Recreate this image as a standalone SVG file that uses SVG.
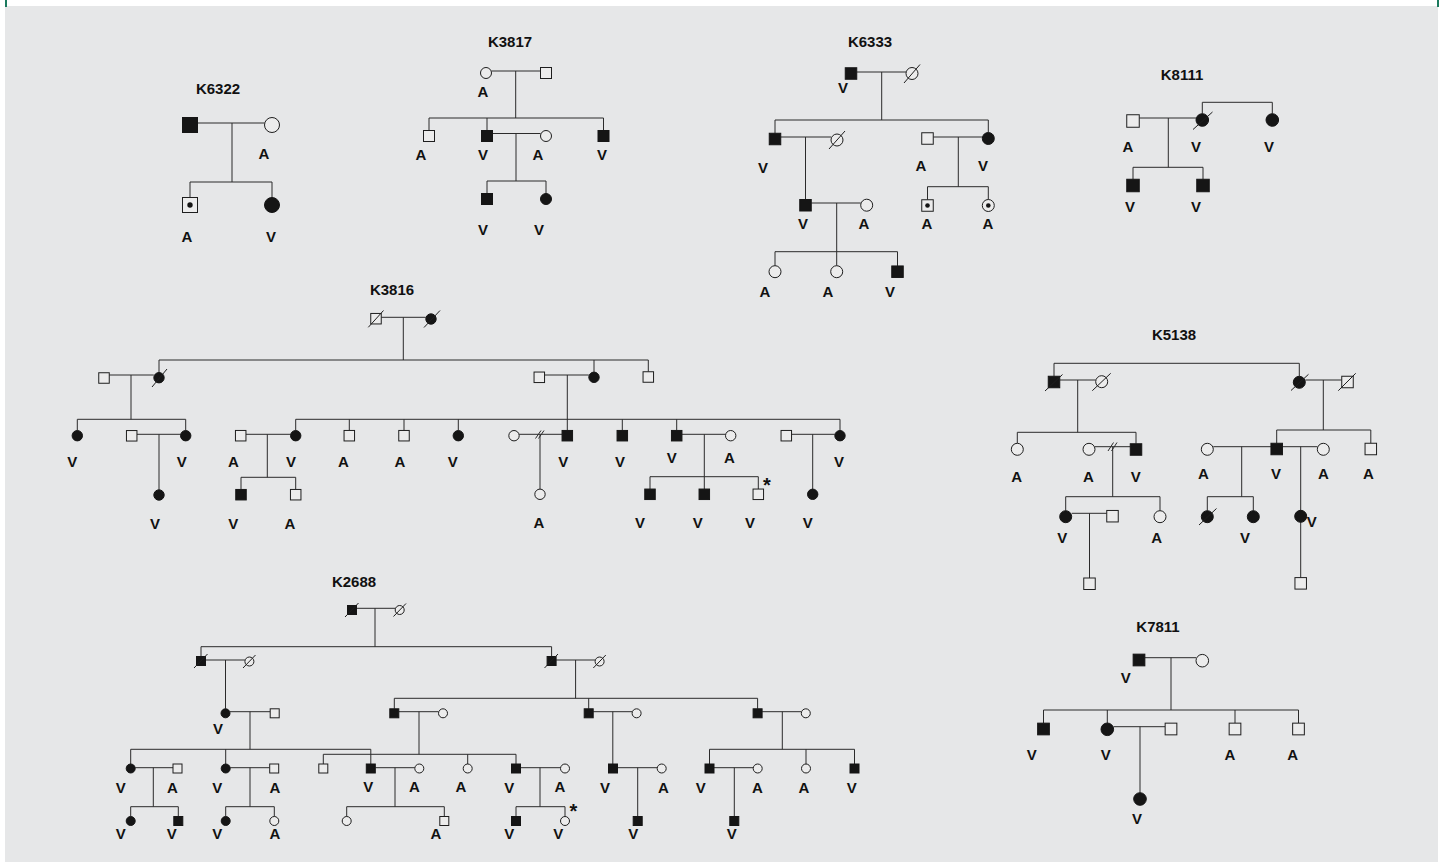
<svg xmlns="http://www.w3.org/2000/svg" width="1444" height="867" viewBox="0 0 1444 867">
<style>
.o{fill:#ececec;stroke:#1e1e1e;stroke-width:1}
.f{fill:#151515;stroke:#151515;stroke-width:1}
.d{fill:#151515}
.ln{stroke:#2b2b2b;stroke-width:1;fill:none}
.sl{stroke:#1e1e1e;stroke-width:1;fill:none}
text{font-family:"Liberation Sans",Arial,sans-serif;font-weight:bold;font-size:15px;fill:#111;text-anchor:middle}
.ti{font-size:15px}
.st{font-size:20px}
</style>
<rect width="1444" height="867" fill="#fff"/>
<rect x="5" y="6" width="1433" height="856" fill="#e6e7e8"/>
<rect x="5" y="0" width="2" height="7" fill="#1b7a5e"/>
<rect x="1437" y="0" width="2" height="7" fill="#1b7a5e"/>

<g id="titles">
<text class="ti" x="218" y="94">K6322</text>
<text class="ti" x="510" y="47">K3817</text>
<text class="ti" x="870" y="47">K6333</text>
<text class="ti" x="1182" y="80">K8111</text>
<text class="ti" x="392" y="295">K3816</text>
<text class="ti" x="1174" y="340">K5138</text>
<text class="ti" x="354" y="587">K2688</text>
<text class="ti" x="1158" y="632">K7811</text>
</g>

<g id="connectors" class="ln">
<path d="M197.5 123 H264.5 M232 123 V182 M190 182 H272 M190 182 V197.5 M272 182 V197.5"/>
<path d="M491.5 71 H540.5 M515.7 71 V118 M429 118 H603.5 M429 118 V130.5 M487 118 V130.5 M603.5 118 V130.5 M492.5 133.5 H540.5 M516 133.5 V181 M487 181 H546 M487 181 V193.5 M546 181 V193.5"/>
<path d="M856.75 72 H906 M881.7 72 V120 M775 120 H988.3 M775 120 V133.25 M988.3 120 V132.5 M780.75 137 H831 M805.5 137 V199.5 M933.25 137 H982.3 M958.3 137 V186.7 M927.5 186.7 H988.3 M927.5 186.7 V199.75 M988.3 186.7 V199.5 M811.25 203 H860.7 M836.7 203 V251.7 M775 251.7 H897.5 M775 251.7 V265.7 M836.7 251.7 V265.7 M897.5 251.7 V265.95"/>
<path d="M1139.25 118 H1196 M1168.3 118 V167.3 M1202.3 113.7 V102.3 H1272.3 V113.7 M1133 167.3 H1203 M1133 167.3 V179.25 M1203 167.3 V179.25"/>
<path d="M381.25 317.3 H425.8 M403.3 317.3 V360 M159 360 H648.3 M159 360 V372.5 M594 360 V372.1 M648.3 360 V371.75 M109.25 375 H153.8 M131 375 V419.3 M77.3 419.3 H185.7 M77.3 419.3 V430.5 M185.7 419.3 V430.5 M136.95 434.3 H180.5 M159 434.3 V489.8 M544.55 375 H588.8 M567.3 375 V430.45 M295.7 419.3 H840 M295.7 419.3 V430.5 M349.3 419.3 V430.45 M404 419.3 V430.45 M458.3 419.3 V430.5 M622.3 419.3 V430.45 M676.7 419.3 V430.45 M840 419.3 V430.5 M245.95 434.3 H290.5 M267.3 434.3 V477.3 M241 477.3 H295.7 M241 477.3 V489.45 M295.7 477.3 V489.45 M519.2 434.3 H562.05 M540 434.3 V489.1 M681.95 434.3 H725.5 M704.3 434.3 V476.7 M650 476.7 H758.3 M650 476.7 V489.05 M704.3 476.7 V489.05 M758.3 476.7 V489.05 M791.55 434.3 H834.8 M812.7 434.3 V489.1 M535.5 438.5 L541 430.5 M538.5 438.5 L544 430.5"/>
<path d="M1054 376.25 V363.3 H1299.3 V376.3 M1059.75 380 H1095.7 M1077.7 380 V432.3 M1017.3 432.3 H1136 M1017.3 432.3 V443.3 M1136 432.3 V443.75 M1095 446.7 H1130.25 M1112.7 446.7 V496.7 M1065.7 496.7 H1160 M1065.7 496.7 V510.7 M1160 496.7 V510.7 M1071.7 513.3 H1106.75 M1089.5 513.3 V578 M1305.3 380 H1341.75 M1323.3 380 V430 M1276.7 430 H1370.8 M1276.7 430 V443.25 M1370.8 430 V443.25 M1213.3 446.7 H1270.95 M1282.45 446.7 H1317.3 M1241.7 446.7 V496.7 M1207.3 496.7 H1253.3 M1207.3 496.7 V510.7 M1253.3 496.7 V510.7 M1300.7 446.7 V577.6 M1108 451 L1113.5 442.5 M1111.5 451 L1117 442.5"/>
<path d="M1144.85 657.7 H1196 M1171 657.7 V710 M1043.5 710 H1298.5 M1043.5 710 V723.15 M1107.3 710 V723 M1235 710 V723.15 M1298.5 710 V723.15 M1113.6 726.7 H1165.15 M1140 726.7 V792.7"/>
<path d="M356.5 608.3 H395.2 M375 608.3 V646.7 M201 646.7 H551.6 M201 646.7 V656.5 M551.6 646.7 V656.5 M205.5 660 H244.9 M225.5 660 V708.8 M556.1 660 H595.1 M575.6 660 V698.3 M230 711.7 H270.2 M250 711.7 V749.3 M394.3 698.3 H757.6 M394.3 698.3 V708.8 M588.7 698.3 V708.8 M757.6 698.3 V708.8 M398.8 711.7 H438.5 M419 711.7 V754.3 M593.2 711.7 H632.1 M612.8 711.7 V764 M762.1 711.7 H801.3 M782.3 711.7 V749.3 M130.7 749.3 H370.8 M130.7 749.3 V764 M225.7 749.3 V764 M370.8 749.3 V764 M323.3 754.3 H516 M323.3 754.3 V764 M467.7 754.3 V764 M516 754.3 V764 M709.5 749.3 H854.5 M709.5 749.3 V764 M806 749.3 V764 M854.5 749.3 V764 M135.2 767.7 H173 M153.3 767.7 V806.7 M130.7 806.7 H178.3 M130.7 806.7 V816.5 M178.3 806.7 V816.5 M230.2 767.7 H269.7 M250 767.7 V806.7 M225.7 806.7 H274.3 M225.7 806.7 V816.5 M274.3 806.7 V816.5 M375.3 767.7 H414.8 M395 767.7 V806.7 M346.7 806.7 H444.3 M346.7 806.7 V816.5 M444.3 806.7 V816.5 M520.5 767.7 H560.5 M540 767.7 V806.7 M516 806.7 H565 M516 806.7 V816.5 M565 806.7 V816.5 M617.5 767.7 H657.2 M637.7 767.7 V816.5 M714 767.7 H753.2 M734.3 767.7 V816.5"/>
</g>

<!-- K6322 -->
<g id="k6322-f"><rect class="f" x="182.5" y="117.5" width="15" height="15"/></g>
<g id="k6322-m"><circle class="o" cx="272" cy="125" r="7.5"/><text x="264" y="159">A</text></g>
<g id="k6322-c1"><rect class="o" x="182.5" y="197.5" width="15" height="15"/><circle class="d" cx="190" cy="205" r="2.7"/><text x="187" y="242">A</text></g>
<g id="k6322-c2"><circle class="f" cx="272" cy="205" r="7.5"/><text x="271" y="242">V</text></g>

<!-- K3817 -->
<g id="k3817-m"><circle class="o" cx="486" cy="73" r="5.5"/><text x="483" y="97">A</text></g>
<g id="k3817-f"><rect class="o" x="540.5" y="67.5" width="11" height="11"/></g>
<g id="k3817-c1"><rect class="o" x="423.5" y="130.5" width="11" height="11"/><text x="421" y="160">A</text></g>
<g id="k3817-c2"><rect class="f" x="481.5" y="130.5" width="11" height="11"/><text x="483" y="160">V</text></g>
<g id="k3817-s2"><circle class="o" cx="546" cy="136" r="5.5"/><text x="538" y="160">A</text></g>
<g id="k3817-c3"><rect class="f" x="598" y="130.5" width="11" height="11"/><text x="602" y="160">V</text></g>
<g id="k3817-g1"><rect class="f" x="481.5" y="193.5" width="11" height="11"/><text x="483" y="235">V</text></g>
<g id="k3817-g2"><circle class="f" cx="546" cy="199" r="5.5"/><text x="539" y="235">V</text></g>

<!-- K6333 -->
<g id="k6333-f"><rect class="f" x="845.25" y="67.75" width="11.5" height="11.5"/><text x="843" y="93">V</text></g>
<g id="k6333-m"><circle class="o" cx="912" cy="73.5" r="6"/><path class="sl" d="M904 83 L920 64.5"/></g>
<g id="k6333-c1"><rect class="f" x="769.25" y="133.25" width="11.5" height="11.5"/><text x="763" y="173">V</text></g>
<g id="k6333-s1"><circle class="o" cx="837" cy="140" r="6"/><path class="sl" d="M829 149 L845 131"/></g>
<g id="k6333-s2"><rect class="o" x="921.75" y="132.75" width="11.5" height="11.5"/><text x="921" y="171">A</text></g>
<g id="k6333-c2"><circle class="f" cx="988.3" cy="138.5" r="6"/><text x="983" y="171">V</text></g>
<g id="k6333-g1"><rect class="f" x="799.75" y="199.5" width="11.5" height="11.5"/><text x="803" y="228.5">V</text></g>
<g id="k6333-s3"><circle class="o" cx="866.7" cy="205.2" r="6"/><text x="864" y="228.5">A</text></g>
<g id="k6333-g2"><rect class="o" x="921.75" y="199.75" width="11.5" height="11.5"/><circle class="d" cx="927.5" cy="205.5" r="2.3"/><text x="927" y="228.5">A</text></g>
<g id="k6333-g3"><circle class="o" cx="988.3" cy="205.5" r="6"/><circle class="d" cx="988.3" cy="205.5" r="2.3"/><text x="988" y="228.5">A</text></g>
<g id="k6333-h1"><circle class="o" cx="775" cy="271.7" r="6"/><text x="765" y="297">A</text></g>
<g id="k6333-h2"><circle class="o" cx="836.7" cy="271.7" r="6"/><text x="828" y="297">A</text></g>
<g id="k6333-h3"><rect class="f" x="891.75" y="265.95" width="11.5" height="11.5"/><text x="890" y="297">V</text></g>

<!-- K8111 -->
<g id="k8111-f"><rect class="o" x="1126.75" y="114.75" width="12.5" height="12.5"/><text x="1128" y="152">A</text></g>
<g id="k8111-m"><circle class="f" cx="1202.3" cy="120" r="6.3"/><path class="sl" d="M1193 129.5 L1212.5 112"/><text x="1196" y="152">V</text></g>
<g id="k8111-sib"><circle class="f" cx="1272.3" cy="120" r="6.3"/><text x="1269" y="152">V</text></g>
<g id="k8111-c1"><rect class="f" x="1126.75" y="179.25" width="12.5" height="12.5"/><text x="1130" y="212">V</text></g>
<g id="k8111-c2"><rect class="f" x="1196.75" y="179.25" width="12.5" height="12.5"/><text x="1196" y="212">V</text></g>

<!-- K3816 -->
<g id="k3816-f"><rect class="o" x="370.75" y="313.45" width="10.5" height="10.5"/><path class="sl" d="M368.3 327.3 L383.5 310.5"/></g>
<g id="k3816-m"><circle class="f" cx="431" cy="319" r="5.2"/><path class="sl" d="M424 327.5 L440 310.5"/></g>
<g id="k3816-s1"><rect class="o" x="98.75" y="372.75" width="10.5" height="10.5"/></g>
<g id="k3816-c1"><circle class="f" cx="159" cy="377.7" r="5.2"/><path class="sl" d="M152 387 L167 369"/></g>
<g id="k3816-s2"><rect class="o" x="534.05" y="372.05" width="10.5" height="10.5"/></g>
<g id="k3816-c2"><circle class="f" cx="594" cy="377.3" r="5.2"/></g>
<g id="k3816-c3"><rect class="o" x="643.05" y="371.75" width="10.5" height="10.5"/></g>
<g id="k3816-a1"><circle class="f" cx="77.3" cy="435.7" r="5.2"/><text x="72.3" y="466.5">V</text></g>
<g id="k3816-a2s"><rect class="o" x="126.45" y="430.55" width="10.5" height="10.5"/></g>
<g id="k3816-a2"><circle class="f" cx="185.7" cy="435.7" r="5.2"/><text x="181.7" y="466.5">V</text></g>
<g id="k3816-a2c"><circle class="f" cx="159" cy="495" r="5.2"/><text x="155" y="529.3">V</text></g>
<g id="k3816-b1s"><rect class="o" x="235.45" y="430.45" width="10.5" height="10.5"/><text x="233.3" y="466.5">A</text></g>
<g id="k3816-b1"><circle class="f" cx="295.7" cy="435.7" r="5.2"/><text x="291" y="466.5">V</text></g>
<g id="k3816-b2"><rect class="o" x="344.05" y="430.45" width="10.5" height="10.5"/><text x="343.3" y="466.5">A</text></g>
<g id="k3816-b3"><rect class="o" x="398.75" y="430.45" width="10.5" height="10.5"/><text x="400" y="466.5">A</text></g>
<g id="k3816-b4"><circle class="f" cx="458.3" cy="435.7" r="5.2"/><text x="452.7" y="466.5">V</text></g>
<g id="k3816-b5s"><circle class="o" cx="514" cy="435.7" r="5.2"/></g>
<g id="k3816-b5"><rect class="f" x="562.05" y="430.45" width="10.5" height="10.5"/><text x="563.3" y="466.5">V</text></g>
<g id="k3816-b6"><rect class="f" x="617.05" y="430.45" width="10.5" height="10.5"/><text x="620" y="466.5">V</text></g>
<g id="k3816-b7"><rect class="f" x="671.45" y="430.45" width="10.5" height="10.5"/><text x="671.7" y="463.3">V</text></g>
<g id="k3816-b7s"><circle class="o" cx="730.7" cy="435.7" r="5.2"/><text x="729.3" y="463.3">A</text></g>
<g id="k3816-b8s"><rect class="o" x="781.05" y="430.45" width="10.5" height="10.5"/></g>
<g id="k3816-b8"><circle class="f" cx="840" cy="435.7" r="5.2"/><text x="839" y="466.5">V</text></g>
<g id="k3816-g1"><rect class="f" x="235.75" y="489.45" width="10.5" height="10.5"/><text x="233.3" y="529.3">V</text></g>
<g id="k3816-g2"><rect class="o" x="290.45" y="489.45" width="10.5" height="10.5"/><text x="290" y="529.3">A</text></g>
<g id="k3816-g3"><circle class="o" cx="540" cy="494.3" r="5.2"/><text x="539" y="528.3">A</text></g>
<g id="k3816-g4"><rect class="f" x="644.75" y="489.05" width="10.5" height="10.5"/><text x="640" y="528.3">V</text></g>
<g id="k3816-g5"><rect class="f" x="699.05" y="489.05" width="10.5" height="10.5"/><text x="697.7" y="528.3">V</text></g>
<g id="k3816-g6"><rect class="o" x="753.05" y="489.05" width="10.5" height="10.5"/><text class="st" x="767" y="492">*</text><text x="750" y="528.3">V</text></g>
<g id="k3816-g7"><circle class="f" cx="812.7" cy="494.3" r="5.2"/><text x="807.7" y="528.3">V</text></g>

<!-- K5138 -->
<g id="k5138-f1"><rect class="f" x="1048.25" y="376.25" width="11.5" height="11.5"/><path class="sl" d="M1045 391 L1062.5 374.5"/></g>
<g id="k5138-m1"><circle class="o" cx="1101.7" cy="381.7" r="6"/><path class="sl" d="M1092.3 390.7 L1110.7 373.3"/></g>
<g id="k5138-m2"><circle class="f" cx="1299.3" cy="382.3" r="6"/><path class="sl" d="M1291 390.5 L1308.5 374.3"/></g>
<g id="k5138-f2"><rect class="o" x="1341.75" y="376.25" width="11.5" height="11.5"/><path class="sl" d="M1338.3 390.7 L1355.7 373.3"/></g>
<g id="k5138-a1"><circle class="o" cx="1017.3" cy="449.3" r="6"/><text x="1016.7" y="481.7">A</text></g>
<g id="k5138-a2s"><circle class="o" cx="1089" cy="449.3" r="6"/><text x="1088.3" y="481.7">A</text></g>
<g id="k5138-a2"><rect class="f" x="1130.25" y="443.75" width="11.5" height="11.5"/><text x="1135.7" y="481.7">V</text></g>
<g id="k5138-a3"><circle class="f" cx="1065.7" cy="516.7" r="6"/><text x="1062.3" y="543.3">V</text></g>
<g id="k5138-a3s"><rect class="o" x="1106.75" y="510.45" width="11.5" height="11.5"/></g>
<g id="k5138-a4"><circle class="o" cx="1160" cy="516.7" r="6"/><text x="1156.7" y="543.3">A</text></g>
<g id="k5138-a5"><rect class="o" x="1083.75" y="578" width="11.5" height="11.5"/></g>
<g id="k5138-b1s"><circle class="o" cx="1207.3" cy="449.3" r="6"/><text x="1203.3" y="479">A</text></g>
<g id="k5138-b1"><rect class="f" x="1270.95" y="443.25" width="11.5" height="11.5"/><text x="1276" y="479">V</text></g>
<g id="k5138-b1s2"><circle class="o" cx="1323.3" cy="449.3" r="6"/><text x="1323.3" y="479">A</text></g>
<g id="k5138-b2"><rect class="o" x="1365.05" y="443.25" width="11.5" height="11.5"/><text x="1368.3" y="479">A</text></g>
<g id="k5138-b3"><circle class="f" cx="1207.3" cy="516.7" r="6"/><path class="sl" d="M1199 525 L1216.5 508.5"/></g>
<g id="k5138-b4"><circle class="f" cx="1253.3" cy="516.7" r="6"/><text x="1245" y="543.3">V</text></g>
<g id="k5138-b5"><circle class="f" cx="1300.7" cy="516.3" r="6"/><text x="1311.7" y="526.7">V</text></g>
<g id="k5138-b6"><rect class="o" x="1294.95" y="577.6" width="11.5" height="11.5"/></g>

<!-- K7811 -->
<g id="k7811-f"><rect class="f" x="1133.15" y="654.15" width="11.7" height="11.7"/><text x="1125.7" y="683.3">V</text></g>
<g id="k7811-m"><circle class="o" cx="1202.3" cy="660.7" r="6.3"/></g>
<g id="k7811-c1"><rect class="f" x="1037.65" y="723.15" width="11.7" height="11.7"/><text x="1031.7" y="760">V</text></g>
<g id="k7811-c2"><circle class="f" cx="1107.3" cy="729.3" r="6.3"/><text x="1105.7" y="760">V</text></g>
<g id="k7811-c2s"><rect class="o" x="1165.15" y="723.15" width="11.7" height="11.7"/></g>
<g id="k7811-c3"><rect class="o" x="1229.15" y="723.15" width="11.7" height="11.7"/><text x="1230" y="760">A</text></g>
<g id="k7811-c4"><rect class="o" x="1292.65" y="723.15" width="11.7" height="11.7"/><text x="1292.7" y="760">A</text></g>
<g id="k7811-g1"><circle class="f" cx="1140" cy="799" r="6.3"/><text x="1137" y="824">V</text></g>

<!-- K2688 -->
<g id="k2688-f"><rect class="f" x="347.5" y="605.5" width="9" height="9"/><path class="sl" d="M345 617 L358.5 603"/></g>
<g id="k2688-m"><circle class="o" cx="399.7" cy="610" r="4.5"/><path class="sl" d="M393.5 616.5 L406 603.5"/></g>
<g id="k2688-a"><rect class="f" x="196.5" y="656.5" width="9" height="9"/><path class="sl" d="M194 668 L207.5 654"/></g>
<g id="k2688-as"><circle class="o" cx="249.4" cy="661.5" r="4.5"/><path class="sl" d="M243 668 L255.5 655"/></g>
<g id="k2688-b"><rect class="f" x="547.1" y="656.5" width="9" height="9"/><path class="sl" d="M544.5 668 L558 654"/></g>
<g id="k2688-bs"><circle class="o" cx="599.6" cy="661.5" r="4.5"/><path class="sl" d="M593.3 668 L605.8 655"/></g>
<g id="k2688-a1"><circle class="f" cx="225.5" cy="713.3" r="4.5"/><text x="218" y="734">V</text></g>
<g id="k2688-a1s"><rect class="o" x="270.2" y="708.8" width="9" height="9"/></g>
<g id="k2688-b1"><rect class="f" x="389.8" y="708.8" width="9" height="9"/></g>
<g id="k2688-b1s"><circle class="o" cx="443" cy="713.3" r="4.5"/></g>
<g id="k2688-b2"><rect class="f" x="584.2" y="708.8" width="9" height="9"/></g>
<g id="k2688-b2s"><circle class="o" cx="636.6" cy="713.3" r="4.5"/></g>
<g id="k2688-b3"><rect class="f" x="753.1" y="708.8" width="9" height="9"/></g>
<g id="k2688-b3s"><circle class="o" cx="805.8" cy="713.3" r="4.5"/></g>
<g id="k2688-c1"><circle class="f" cx="130.7" cy="768.5" r="4.5"/><text x="120.7" y="793.3">V</text></g>
<g id="k2688-c1s"><rect class="o" x="173" y="764" width="9" height="9"/><text x="172.3" y="793.3">A</text></g>
<g id="k2688-c2"><circle class="f" cx="225.7" cy="768.5" r="4.5"/><text x="217.3" y="793.3">V</text></g>
<g id="k2688-c2s"><rect class="o" x="269.7" y="764" width="9" height="9"/><text x="275" y="793.3">A</text></g>
<g id="k2688-c3"><rect class="o" x="318.8" y="764" width="9" height="9"/></g>
<g id="k2688-c4"><rect class="f" x="366.3" y="764" width="9" height="9"/><text x="368.3" y="791.7">V</text></g>
<g id="k2688-c4s"><circle class="o" cx="419.3" cy="768.5" r="4.5"/><text x="414.3" y="791.7">A</text></g>
<g id="k2688-c5"><circle class="o" cx="467.7" cy="768.5" r="4.5"/><text x="461" y="791.7">A</text></g>
<g id="k2688-c6"><rect class="f" x="511.5" y="764" width="9" height="9"/><text x="509.3" y="793.3">V</text></g>
<g id="k2688-c6s"><circle class="o" cx="565" cy="768.5" r="4.5"/><text x="560" y="791.7">A</text></g>
<g id="k2688-c7"><rect class="f" x="608.5" y="764" width="9" height="9"/><text x="605" y="793.3">V</text></g>
<g id="k2688-c7s"><circle class="o" cx="661.7" cy="768.5" r="4.5"/><text x="663.3" y="793.3">A</text></g>
<g id="k2688-c8"><rect class="f" x="705" y="764" width="9" height="9"/><text x="700.7" y="793.3">V</text></g>
<g id="k2688-c8s"><circle class="o" cx="757.7" cy="768.5" r="4.5"/><text x="757.3" y="793.3">A</text></g>
<g id="k2688-c9"><circle class="o" cx="806" cy="768.5" r="4.5"/><text x="804" y="793.3">A</text></g>
<g id="k2688-c10"><rect class="f" x="850" y="764" width="9" height="9"/><text x="851.7" y="793.3">V</text></g>
<g id="k2688-d1"><circle class="f" cx="130.7" cy="821" r="4.5"/><text x="120.7" y="839">V</text></g>
<g id="k2688-d2"><rect class="f" x="173.8" y="816.5" width="9" height="9"/><text x="171.7" y="839">V</text></g>
<g id="k2688-d3"><circle class="f" cx="225.7" cy="821" r="4.5"/><text x="217.3" y="839">V</text></g>
<g id="k2688-d4"><circle class="o" cx="274.3" cy="821" r="4.5"/><text x="275" y="839">A</text></g>
<g id="k2688-d5"><circle class="o" cx="346.7" cy="821" r="4.5"/></g>
<g id="k2688-d6"><rect class="o" x="439.8" y="816.5" width="9" height="9"/><text x="436" y="839">A</text></g>
<g id="k2688-d7"><rect class="f" x="511.5" y="816.5" width="9" height="9"/><text x="509.3" y="839">V</text></g>
<g id="k2688-d8"><circle class="o" cx="565" cy="821" r="4.5"/><text class="st" x="573.5" y="818">*</text><text x="558.3" y="839">V</text></g>
<g id="k2688-d9"><rect class="f" x="633.2" y="816.5" width="9" height="9"/><text x="633.3" y="839">V</text></g>
<g id="k2688-d10"><rect class="f" x="729.8" y="816.5" width="9" height="9"/><text x="731.7" y="839">V</text></g>
</svg>
